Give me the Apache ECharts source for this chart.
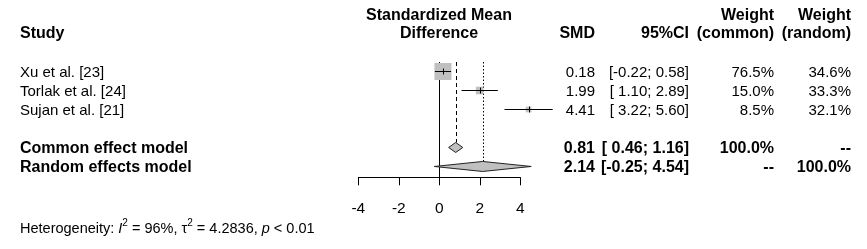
<!DOCTYPE html>
<html>
<head>
<meta charset="utf-8">
<script src="https://cdn.jsdelivr.net/npm/echarts@6/dist/echarts.min.js"></script>
<style>html,body{margin:0;padding:0;background:#fff}#c{width:867px;height:249px}</style>
</head>
<body>
<div id="c"></div>
<script>
// ---- data ----
const studies = ['Xu et al. [23]', 'Torlak et al. [24]', 'Sujan et al. [21]'];
const smd = [0.18, 1.99, 4.41];
const ciLow = [-0.22, 1.10, 3.22];
const ciHigh = [0.58, 2.89, 5.60];
const weightCommon = [76.5, 15.0, 8.5];
const weightRandom = [34.6, 33.3, 32.1];
const pooledNames = ['Common effect model', 'Random effects model'];
const pooledSmd = [0.81, 2.14];
const pooledLow = [0.46, -0.25];
const pooledHigh = [1.16, 4.54];
const pooledWeightCommon = ['100.0%', '--'];
const pooledWeightRandom = ['--', '100.0%'];
const xTicks = [-4, -2, 0, 2, 4];

// ---- layout / style ----
const FONT = "'Liberation Sans', Arial, sans-serif";
const FS = 15, FSB = 16;
const studyRows = studies.map((_, i) => i);
const pooledRows = pooledNames.map((_, i) => studies.length + 1 + i);
const yTop = -0.5, yBottom = 5.57;
const DIAMOND_H = 5;

const fmt = v => v.toFixed(2);
const fmtCI = (lo, hi) => '[' + (lo < 0 ? '' : ' ') + fmt(lo) + '; ' + fmt(hi) + ']';

const tableRows = [];
studies.forEach((s, i) => tableRows.push({
  row: studyRows[i], name: s, smd: fmt(smd[i]), ci: fmtCI(ciLow[i], ciHigh[i]),
  wc: weightCommon[i].toFixed(1) + '%', wr: weightRandom[i].toFixed(1) + '%', bold: false
}));
pooledNames.forEach((s, i) => tableRows.push({
  row: pooledRows[i], name: s, smd: fmt(pooledSmd[i]), ci: fmtCI(pooledLow[i], pooledHigh[i]),
  wc: pooledWeightCommon[i], wr: pooledWeightRandom[i], bold: true
}));

const COL = {study: 20, smd: 595, ci: 689, wc: 774, wr: 851};
const maxW = Math.max(...weightCommon);

const chart = echarts.init(document.getElementById('c'), null, {renderer: 'canvas'});

function txt(x, y, text, align, bold, size) {
  return {type: 'text', x: x, y: y, style: {text: text, x: 0, y: 0, textAlign: align, textVerticalAlign: 'middle',
    fontFamily: FONT, fontSize: size || (bold ? FSB : FS), fontWeight: bold ? 'bold' : 'normal', fill: '#000'}};
}

const option = {
  animation: false,
  backgroundColor: '#fff',
  grid: {left: 358.3, right: 346.7, top: 62, bottom: 71.7, containLabel: false},
  xAxis: {
    type: 'value', min: xTicks[0], max: xTicks[xTicks.length - 1], interval: 2,
    axisLine: {show: true, onZero: false, lineStyle: {color: '#000', width: 1}},
    axisTick: {show: true, inside: false, length: 8, lineStyle: {color: '#000', width: 1}},
    axisLabel: {show: true, margin: 23, fontFamily: FONT, fontSize: 15.5, color: '#000'},
    splitLine: {show: false}
  },
  yAxis: {type: 'value', inverse: true, min: yTop, max: yBottom, show: false},
  graphic: [
    txt(COL.study, 34, 'Study', 'left', true),
    txt(439, 16, 'Standardized Mean', 'center', true),
    txt(439, 34, 'Difference', 'center', true),
    txt(COL.smd, 34, 'SMD', 'right', true),
    txt(COL.ci, 34, '95%CI', 'right', true),
    txt(COL.wc, 16, 'Weight', 'right', true),
    txt(COL.wc, 34, '(common)', 'right', true),
    txt(COL.wr, 16, 'Weight', 'right', true),
    txt(COL.wr, 34, '(random)', 'right', true),
    {
      type: 'text', x: COL.study, y: 227,
      style: {
        text: '{a|Heterogeneity: }{i|I}{s|2}{a| = 96%, τ}{s|2}{a| = 4.2836, }{i|p}{a| < 0.01}',
        textVerticalAlign: 'middle', fontFamily: FONT, fontSize: 14.5, fill: '#000',
        rich: {
          a: {fontFamily: FONT, fontSize: 14.5, lineHeight: 18, verticalAlign: 'bottom'},
          i: {fontFamily: FONT, fontSize: 14.5, fontStyle: 'italic', lineHeight: 18, verticalAlign: 'bottom'},
          s: {fontFamily: FONT, fontSize: 10, lineHeight: 18, verticalAlign: 'top'}
        }
      }
    }
  ],
  series: [
    { // reference lines
      type: 'custom', clip: false, silent: true,
      data: [[0, 0], [pooledSmd[0], 1], [pooledSmd[1], 2]],
      encode: {x: 0, y: 1},
      renderItem: function (params, api) {
        const v = api.value(0), k = params.dataIndex;
        const top = api.coord([v, yTop]);
        let bottomY;
        if (k === 0) bottomY = api.coord([v, yBottom])[1];
        else bottomY = api.coord([v, pooledRows[k - 1]])[1] - DIAMOND_H;
        const x = Math.round(top[0]) + 0.5;
        const dash = k === 0 ? null : (k === 1 ? [4, 3] : [1.5, 2]);
        return {type: 'line', shape: {x1: x, y1: top[1], x2: x, y2: bottomY},
          style: {stroke: '#000', lineWidth: 1, lineDash: dash}};
      }
    },
    { // studies
      type: 'custom', clip: false, silent: true,
      data: studies.map((_, i) => [smd[i], ciLow[i], ciHigh[i], studyRows[i], weightCommon[i]]),
      encode: {x: [0, 1, 2], y: 3},
      renderItem: function (params, api) {
        const est = api.value(0), lo = api.value(1), hi = api.value(2), row = api.value(3), w = api.value(4);
        const pE = api.coord([est, row]), pL = api.coord([lo, row]), pH = api.coord([hi, row]);
        const size = 17 * Math.sqrt(w / maxW);
        const y = Math.round(pE[1]) + 0.5;
        return {type: 'group', children: [
          {type: 'rect', shape: {x: pE[0] - size / 2, y: pE[1] - size / 2, width: size, height: size},
            style: {fill: '#c0c0c0'}},
          {type: 'line', shape: {x1: pL[0], y1: y, x2: pH[0], y2: y}, style: {stroke: '#000', lineWidth: 1}},
          {type: 'line', shape: {x1: Math.round(pE[0]) + 0.5, y1: y - 3, x2: Math.round(pE[0]) + 0.5, y2: y + 3},
            style: {stroke: '#000', lineWidth: 1}}
        ]};
      }
    },
    { // pooled diamonds
      type: 'custom', clip: false, silent: true,
      data: pooledNames.map((_, i) => [pooledSmd[i], pooledLow[i], pooledHigh[i], pooledRows[i]]),
      encode: {x: [0, 1, 2], y: 3},
      renderItem: function (params, api) {
        const est = api.value(0), lo = api.value(1), hi = api.value(2), row = api.value(3);
        const pE = api.coord([est, row]), pL = api.coord([lo, row]), pH = api.coord([hi, row]);
        const h = DIAMOND_H;
        return {type: 'polygon', shape: {points: [[pL[0], pE[1]], [pE[0], pE[1] - h], [pH[0], pE[1]], [pE[0], pE[1] + h]]},
          style: {fill: '#c0c0c0', stroke: '#222', lineWidth: 1}};
      }
    },
    { // table text
      type: 'custom', clip: false, silent: true,
      data: tableRows.map(r => [0, r.row]),
      encode: {x: 0, y: 1},
      renderItem: function (params, api) {
        const r = tableRows[params.dataIndex];
        const y = api.coord([0, api.value(1)])[1] + 1;
        return {type: 'group', children: [
          txt(COL.study, y, r.name, 'left', r.bold),
          txt(COL.smd, y, r.smd, 'right', r.bold),
          txt(COL.ci, y, r.ci, 'right', r.bold),
          txt(COL.wc, y, r.wc, 'right', r.bold),
          txt(COL.wr, y, r.wr, 'right', r.bold)
        ]};
      }
    }
  ]
};
chart.setOption(option);
</script>
</body>
</html>
